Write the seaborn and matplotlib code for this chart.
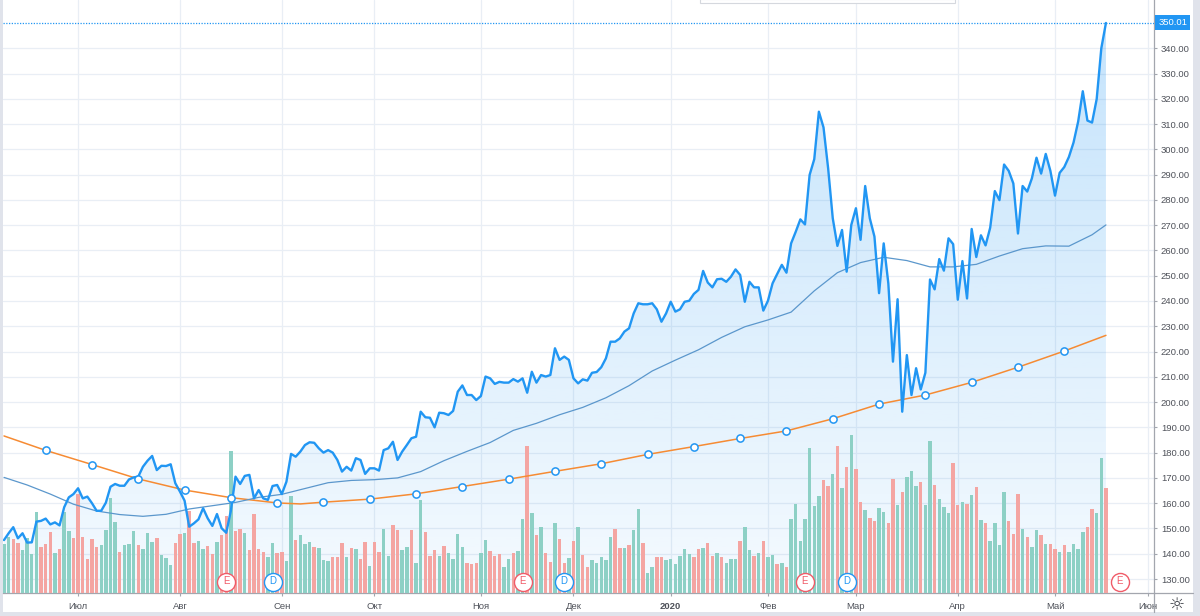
import numpy as np
import pandas as pd
import matplotlib
matplotlib.use("Agg")
import matplotlib.pyplot as plt
import matplotlib.transforms as mtransforms
from matplotlib.patches import Rectangle, Polygon
from matplotlib.lines import Line2D
from matplotlib.ticker import FuncFormatter
import seaborn as sns

# ---------------- data ----------------
price = [
    145.4, 148.1, 150.5, 146.1, 148.1, 144.4, 144.5, 152.7, 153.0, 153.9,
    151.6, 152.4, 151.2, 158.4, 162.3, 163.6, 165.9, 161.9, 162.6, 160.0,
    157.0, 157.0, 160.2, 166.5, 167.6, 166.9, 166.9, 169.4, 170.2, 170.5,
    174.4, 176.8, 178.7, 173.1, 174.8, 174.7, 175.4, 167.9, 164.6, 161.0,
    150.7, 152.0, 153.6, 158.0, 154.0, 151.0, 155.7, 150.1, 148.3, 157.0,
    170.5, 167.6, 170.8, 171.2, 161.9, 165.2, 161.9, 161.3, 166.8, 167.2,
    163.6, 168.5, 179.5, 178.4, 180.4, 183.0, 184.1, 183.9, 181.7, 180.0,
    181.0, 180.0, 177.1, 172.5, 174.4, 172.9, 177.8, 177.1, 171.6, 173.8,
    173.8, 172.9, 181.0, 181.7, 184.3, 177.1, 180.4, 183.0, 185.7, 186.3,
    196.2, 194.0, 193.8, 190.0, 195.8, 195.6, 194.9, 196.5, 204.1, 206.6,
    202.8, 202.8, 200.8, 202.4, 210.1, 209.4, 207.2, 208.0, 207.7, 207.7,
    209.1, 208.1, 209.4, 203.7, 212.0, 207.7, 210.7, 210.1, 210.7, 221.3,
    216.7, 218.0, 216.7, 209.4, 207.4, 209.0, 208.5, 211.6, 211.9, 213.8,
    217.3, 223.9, 223.9, 225.2, 227.9, 229.2, 235.1, 239.1, 238.7, 238.7,
    239.1, 236.7, 231.8, 235.1, 239.7, 235.8, 236.7, 239.7, 240.1, 242.8,
    244.4, 251.9, 247.3, 245.4, 248.6, 248.8, 247.6, 249.6, 252.5, 250.3,
    239.7, 247.6, 245.4, 245.4, 236.2, 240.1, 247.0, 250.7, 254.3, 251.2,
    262.8, 267.4, 272.3, 270.3, 289.9, 296.1, 314.9, 308.7, 292.5, 272.7,
    261.8, 268.1, 251.6, 270.1, 276.7, 264.2, 285.5, 272.7, 265.5, 243.1,
    262.8, 247.0, 216.0, 240.7, 196.2, 218.6, 202.8, 213.4, 205.0, 211.6,
    248.5, 244.6, 256.6, 252.0, 264.8, 262.5, 240.5, 255.8, 241.0, 268.5,
    257.4, 266.0, 262.0, 269.0, 283.5, 279.9, 294.0, 291.5, 286.5, 266.7,
    285.5, 283.3, 288.5, 296.7, 290.4, 298.2, 291.5, 281.7, 290.7, 293.0,
    297.0, 302.7, 311.0, 323.0, 311.4, 310.6, 319.9, 340.0, 350.01,
]

# volume, in units of 100k shares
volume = [
    49, 55.7, 53.7, 50.3, 42.7, 55, 39, 81.3, 46.3, 49,
    60.7, 39.7, 43.7, 81, 62.3, 55.3, 99, 56, 34.3, 54,
    46, 48, 63, 95, 70.7, 40.7, 47.7, 49, 62, 48,
    44.3, 60, 51.3, 55.3, 38.3, 35.3, 28, 50.3, 59, 59.7,
    82, 50.3, 52, 43.7, 47.3, 39, 50.7, 58, 77.3, 142,
    62, 64, 60, 43, 79, 44, 40.7, 35.7, 49.7, 40.3,
    41.3, 32, 97, 53, 58, 49, 50.7, 45.7, 44.7, 33,
    32, 36.3, 35.7, 49.7, 35.7, 45, 43.7, 33.7, 51.3, 27,
    51.3, 41.3, 64, 37.3, 68.3, 63, 43, 45.7, 63, 29.7,
    93, 60.7, 37.3, 43, 37.3, 47.3, 39.7, 33.7, 59, 46.3,
    29.7, 29, 29.7, 39.7, 53, 42, 37.3, 39, 26.3, 34,
    39.7, 42, 73.7, 147, 79.7, 58, 65.7, 40.3, 31.3, 70.3,
    53.7, 30.3, 35, 52, 65.7, 38, 25.7, 33, 30.3, 35.7,
    33, 56.3, 63.7, 45.3, 45.3, 48, 63, 83.7, 49.7, 19.7,
    25.7, 36.3, 36.3, 33, 33.7, 29, 37, 44.3, 39, 36,
    44, 44.7, 50.3, 37, 39.7, 35.7, 30.3, 33.7, 34, 51.7,
    65.7, 43, 37, 40.3, 51.7, 35.7, 38, 29, 30.3, 26.3,
    73.7, 89, 52, 73.7, 144.7, 87, 97, 113, 107, 119,
    147, 104.7, 126.3, 158, 123.7, 90.7, 83, 75.3, 72, 85.3,
    80.7, 70.3, 114, 88.3, 101.3, 116.3, 122, 107, 111, 88.5,
    152, 107.6, 93.6, 86, 80.4, 129.6, 88, 90.6, 88.7, 98.2,
    105.7, 72.8, 70.5, 52, 70.5, 47.8, 100.8, 71.6, 59.5, 99.3,
    64, 55.7, 45.9, 63.3, 58.4, 48.9, 48.9, 44.4, 40.6, 47.8,
    41.3, 48.9, 44.4, 61.4, 65.9, 84.1, 80.4, 134.9, 105,
]

# g = up bar, r = down bar
volume_dir = list(
    "ggrrggggrr" "rgrggrrrrr" "rggggrgggr" "gggrgggrrg" "rrggrrgrrg"
    "rrgrrrrggr" "rggrgggrgg" "grrrgrgrrg" "rrggrrggrg" "grrrgrgggg"
    "rrrggrrrgg" "rggrgrgrrg" "rrgrgrrggg" "ggrrgrggrg" "grrggggggr"
    "rgrrgrgggr" "ggrgrggrgr" "gggggggrrg" "rgrgrrgrrg" "grrgrgggrg"
    "grgggrrgrg" "rgrggggrrr" "grggrgrrgr" "ggggrrggr"
)

sma50_idx = [0, 5, 10, 15, 20, 25, 30, 35, 40, 45, 50, 55, 60, 65, 70, 75, 80,
             85, 90, 95, 100, 105, 110, 115, 120, 125, 130, 135, 140, 145, 150,
             155, 160, 165, 170, 175, 180, 185, 190, 195, 200, 205, 210, 215,
             220, 225, 230, 235, 238]
sma50 = [170.2, 167.2, 163.6, 159.6, 156.9, 155.5, 154.8, 155.6, 157.7, 159.0,
         160.3, 162.3, 163.5, 165.8, 168.1, 169.0, 169.3, 170.0, 172.5, 176.8,
         180.5, 184.0, 188.8, 191.6, 195.0, 197.9, 201.7, 206.5, 212.3, 216.6,
         220.7, 225.6, 229.8, 232.5, 235.6, 244.0, 251.2, 255.2, 257.3, 256.0,
         253.5, 253.5, 254.5, 257.8, 260.7, 261.8, 261.7, 266.2, 270.1]

sma200_idx = [0, 9, 19, 29, 39, 49, 59, 64, 69, 79, 89, 99, 109, 119, 129, 139,
              149, 159, 169, 179, 189, 199, 209, 219, 229, 238]
sma200 = [186.6, 180.9, 175.3, 169.6, 165.2, 162.2, 160.1, 159.7, 160.4, 161.6,
          163.7, 166.6, 169.5, 172.6, 175.6, 179.3, 182.4, 185.6, 188.6, 193.4,
          199.2, 202.8, 207.8, 213.8, 220.2, 226.4]

month_labels = ["Июл", "Авг", "Сен", "Окт", "Ноя", "Дек", "2020",
                "Фев", "Мар", "Апр", "Май", "Июн"]
month_idx = [16, 38, 60, 80, 103, 123, 144, 165, 184, 206, 227, 247]

earn_idx = [48, 112, 173, 241]
div_idx = [58, 121, 182]

price_ticks = list(range(130, 350, 10))

# ---------------- style ----------------
sns.set_theme(style="white")
plt.rcParams["font.family"] = ["Liberation Sans", "DejaVu Sans"]

BLUE = "#2196f3"
ORANGE = "#f68b33"
SMA_BLUE = "#5b97cc"
GREEN_BAR = "#8dd0c5"
RED_BAR = "#f4a5a2"
GRID = "#e9eef5"
TXT = "#4f525a"
AXLINE = "#a3a6ae"

W, H = 1200, 616
L, R, T, B = 3, 1154, 0, 593
PX_PER_DAY = 4.63
X0 = 4.0
PX_PER_UNIT = 2.5273

xmin = (L - X0) / PX_PER_DAY
xmax = (R - X0) / PX_PER_DAY
ymax = 350.0 + 23 / PX_PER_UNIT
ymin = 130.0 - (B - 579) / PX_PER_UNIT

fig = plt.figure(figsize=(W / 100, H / 100), dpi=100)
fig.patch.set_facecolor("#e0e3eb")
fig.add_artist(Rectangle((L / W, 4 / H), (1193 - L) / W, (H - 4) / H,
                         transform=fig.transFigure, fc="white", ec="none", zorder=-5))

rect = [L / W, 1 - B / H, (R - L) / W, (B - T) / H]
ax = fig.add_axes(rect)
ax_v = fig.add_axes(rect, sharex=ax)
ax_t = fig.add_axes(rect, sharex=ax, sharey=ax)
ax.set_zorder(0)
ax_v.set_zorder(1)
ax_t.set_zorder(2)
ax_v.patch.set_visible(False)
ax_t.patch.set_visible(False)
ax.patch.set_facecolor("white")

xs = np.arange(len(price))

# --- gradient area under the price line ---
verts = [(xs[0], ymin)] + list(zip(xs, price)) + [(xs[-1], ymin)]
poly = Polygon(verts, closed=True, fc="none", ec="none")
ax.add_patch(poly)
n = 256
img = np.zeros((n, 1, 4))
img[..., 0] = 33 / 255
img[..., 1] = 150 / 255
img[..., 2] = 243 / 255
img[..., 3] = np.linspace(0.27, 0.05, n)[:, None]
im = ax.imshow(img, extent=[xmin, xmax, ymin, ymax], origin="upper",
               aspect="auto", zorder=1, interpolation="bilinear")
im.set_clip_path(poly)

# --- grid / axes of price pane ---
ax.set_xlim(xmin, xmax)
ax.set_ylim(ymin, ymax)
ax.set_yticks(price_ticks)
ax.yaxis.set_major_formatter(FuncFormatter(lambda v, p: f"{v:.2f}"))
ax.set_xticks(month_idx)
ax.set_xticklabels(month_labels)
ax.grid(True, color=GRID, lw=0.9)
ax.set_axisbelow(True)
ax.yaxis.tick_right()
ax.tick_params(axis="y", right=True, left=False, labelright=True, labelleft=False,
               length=2.5, width=0.8, color=AXLINE, pad=2.5, labelsize=6.8,
               labelcolor=TXT)
ax.tick_params(axis="x", bottom=True, length=2.5, width=0.8, color=AXLINE,
               pad=4.0, labelsize=6.8, labelcolor=TXT)
for lbl in ax.get_xticklabels():
    if lbl.get_text() == "2020":
        lbl.set_fontweight("bold")
for s in ["left", "top"]:
    ax.spines[s].set_visible(False)
for s in ["right", "bottom"]:
    ax.spines[s].set_color(AXLINE)
    ax.spines[s].set_linewidth(0.9)

# --- volume pane ---
bar_colors = [GREEN_BAR if d == "g" else RED_BAR for d in volume_dir]
ax_v.bar(xs, volume, width=0.74, color=bar_colors, linewidth=0, zorder=2)
ax_v.set_ylim(0, B - T)
ax_v.axis("off")

# --- lines ---
ax_t.plot(sma200_idx, sma200, color=ORANGE, lw=1.1, zorder=3, solid_capstyle="round")
mk_x = [i for i in sma200_idx if i % 10 == 9]
mk_y = [v for i, v in zip(sma200_idx, sma200) if i % 10 == 9]
ax_t.plot(mk_x, mk_y, ls="none", marker="o", ms=5.2, mfc="white", mec=BLUE,
          mew=1.1, zorder=6)
ax_t.plot(sma50_idx, sma50, color=SMA_BLUE, lw=0.9, zorder=3)
sns.lineplot(x=xs, y=price, ax=ax_t, color=BLUE, lw=1.7, zorder=5)
ax_t.axhline(price[-1], color=BLUE, lw=0.9, ls=(0, (1, 1.2)), zorder=4)
ax_t.set_xlim(xmin, xmax)
ax_t.set_ylim(ymin, ymax)
ax_t.axis("off")

# --- earnings / dividends markers ---
trans = mtransforms.blended_transform_factory(ax_t.transData, ax_t.transAxes)
ypos = (B - 581.5) / (B - T)
for idxs, col, letter in [(earn_idx, "#f05b68", "E"), (div_idx, BLUE, "D")]:
    ax_t.plot(idxs, [ypos] * len(idxs), ls="none", marker="o", ms=13,
              mfc="white", mec=col, mew=1.0, transform=trans, clip_on=False,
              zorder=8)
    for i in idxs:
        ax_t.text(i, ypos, letter, transform=trans, ha="center", va="center",
                  fontsize=7, color=col, zorder=9, clip_on=False)

# --- last price label ---
ytrans = mtransforms.blended_transform_factory(ax.transAxes, ax.transData)
ax.text(1.0 + 4.5 / (R - L), price[-1], f"{price[-1]:.2f}", transform=ytrans,
        ha="left", va="center", fontsize=6.8, color="white", zorder=10,
        clip_on=False,
        bbox=dict(boxstyle="square,pad=0.32", fc=BLUE, ec="none"))
ax.text(1.0 + 7.5 / (R - L), 360, "360.00", transform=ytrans, ha="left",
        va="center", fontsize=6.8, color=TXT, clip_on=False)

# --- frame pieces outside the axes ---
fig.add_artist(Line2D([R / W, R / W], [4 / H, 1 - B / H], color=AXLINE, lw=0.9))
fig.add_artist(Line2D([R / W, 1193 / W], [1 - B / H, 1 - B / H], color=AXLINE, lw=0.9))
fig.text(1177 / W, 1 - 605 / H, "☼", ha="center", va="center", fontsize=13,
         color="#3a3d45", family="DejaVu Sans")
fig.add_artist(Rectangle((700 / W, 1 - 3 / H), 255 / W, 4 / H,
                         transform=fig.transFigure, fc="white", ec="#d5d8de",
                         lw=0.8, zorder=20))

fig.savefig("out.png", dpi=100, facecolor=fig.get_facecolor())
